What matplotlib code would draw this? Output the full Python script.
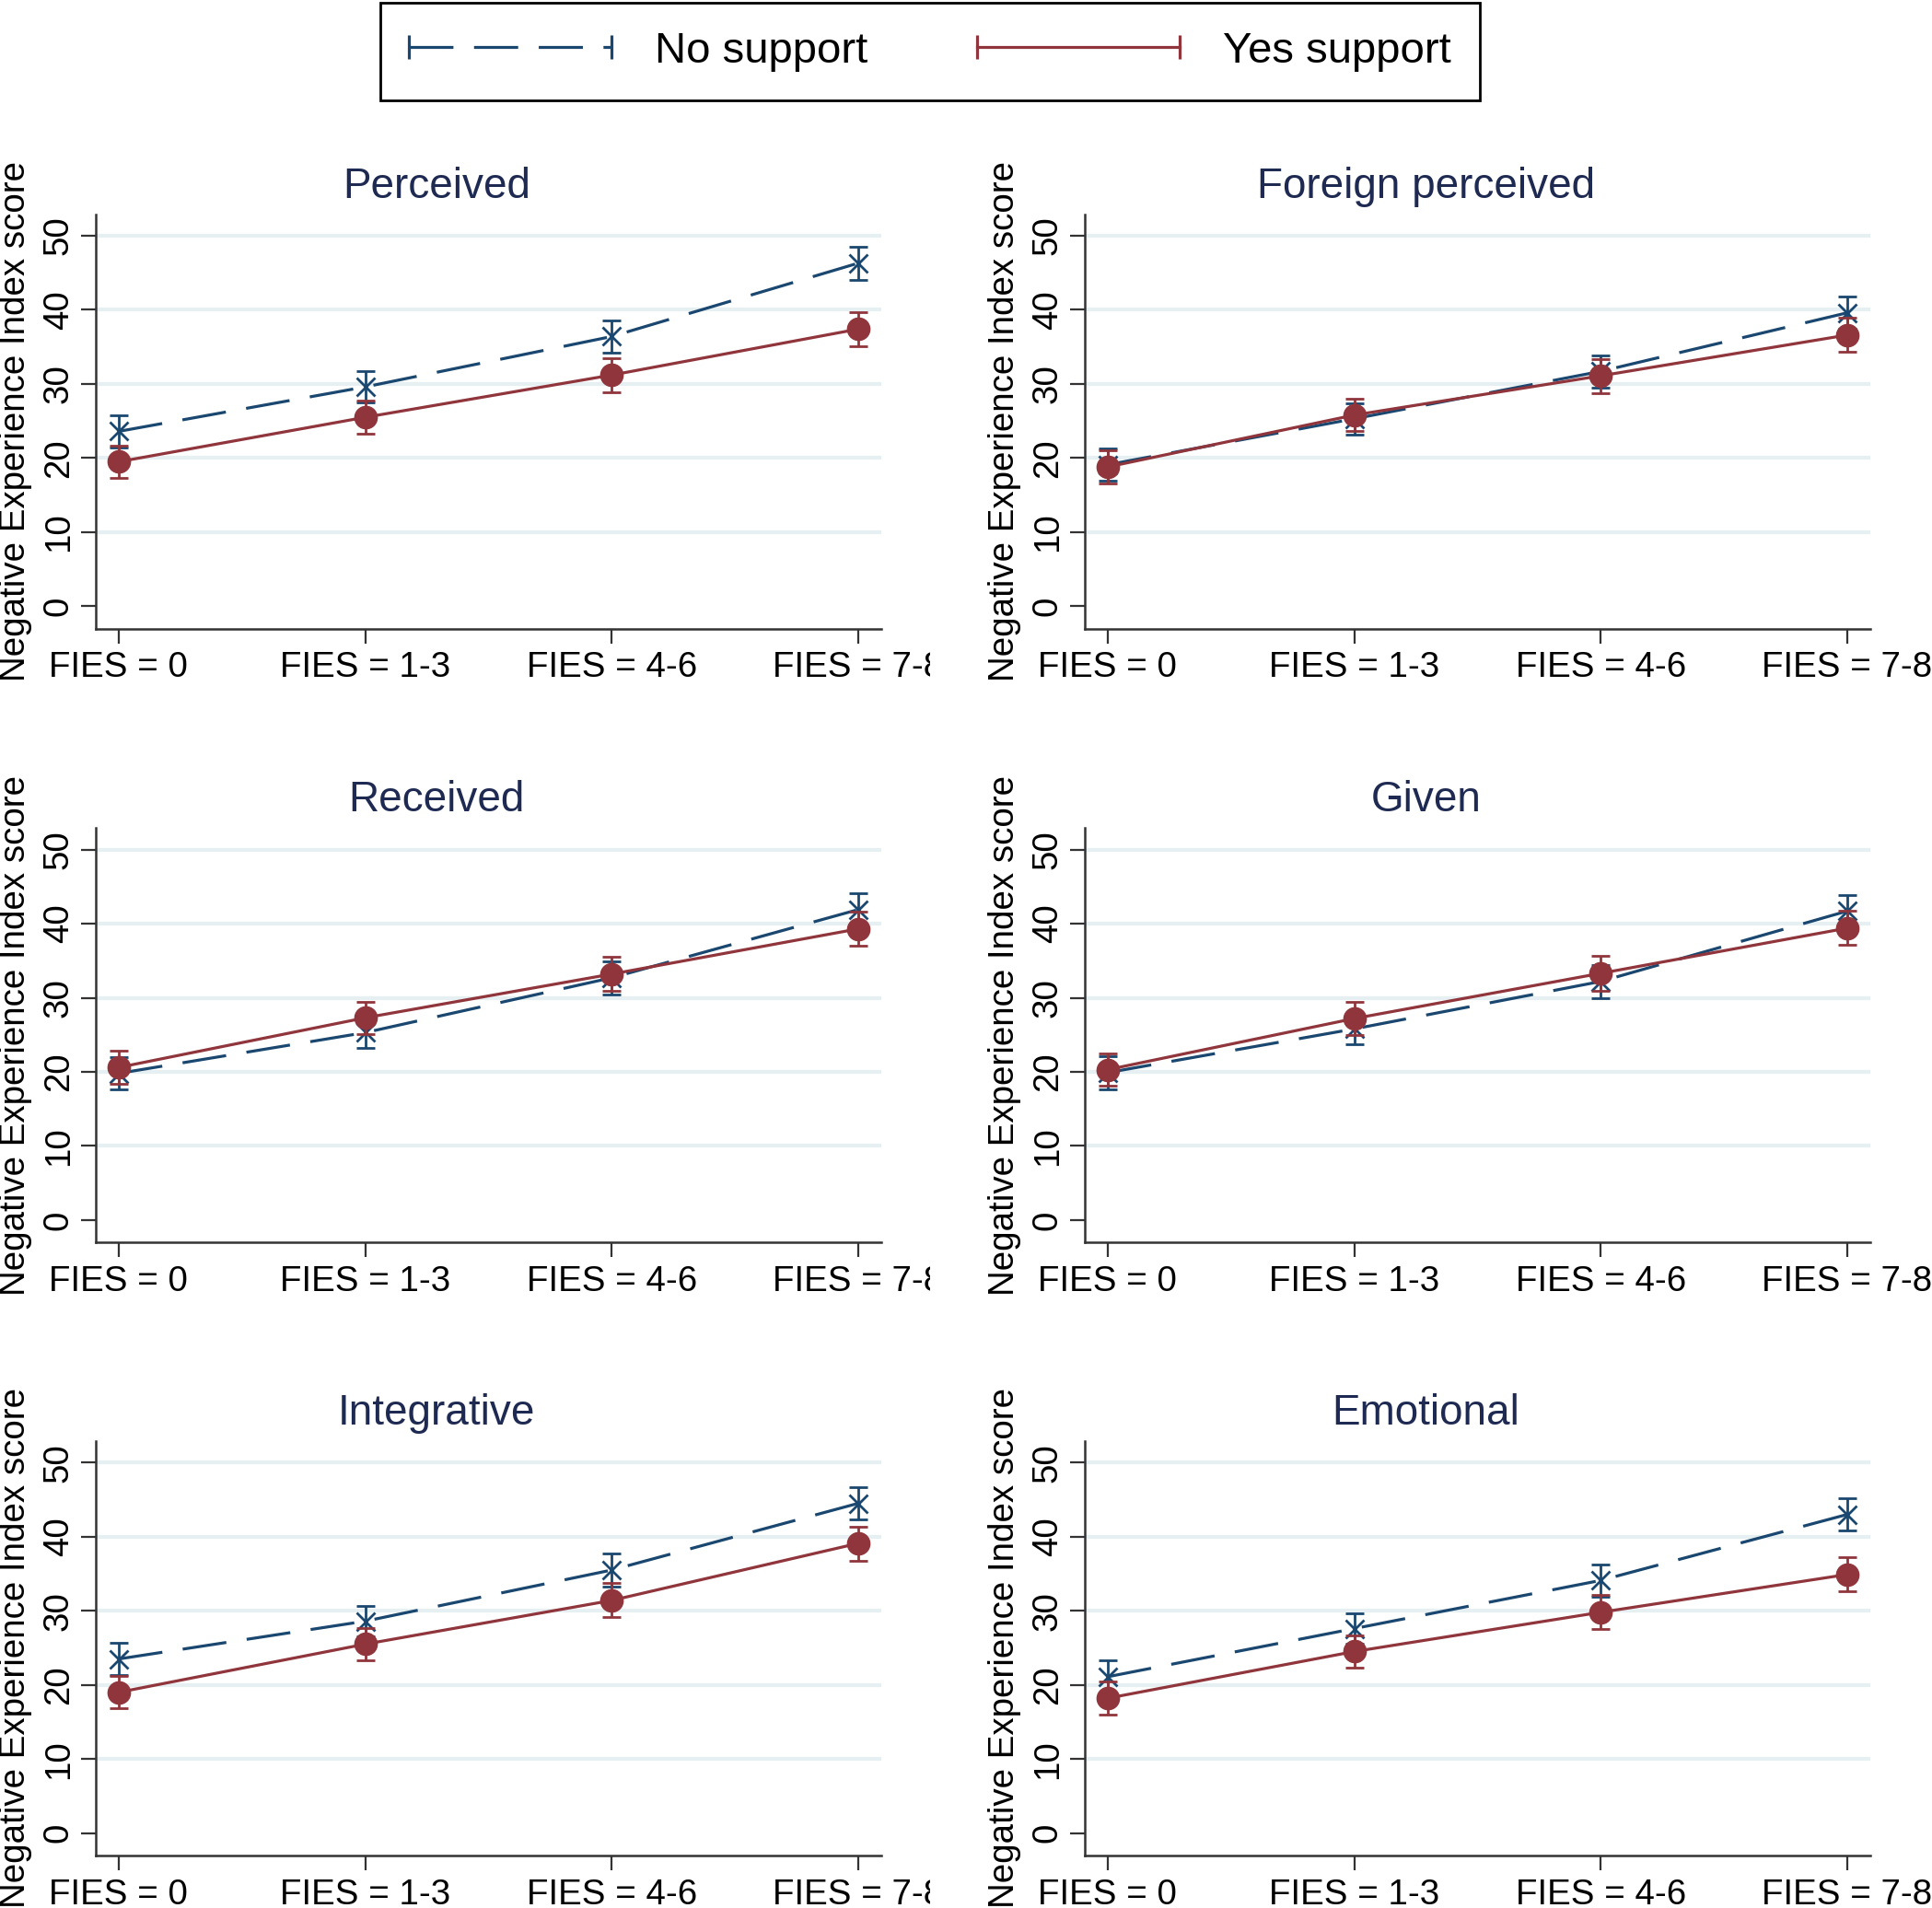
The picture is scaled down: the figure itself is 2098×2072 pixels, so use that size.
import matplotlib
matplotlib.use("Agg")
import matplotlib.pyplot as plt
from matplotlib.lines import Line2D
from matplotlib.legend_handler import HandlerLine2D
from matplotlib.transforms import Bbox, TransformedBbox

plt.rcParams['font.family'] = ['Liberation Sans', 'DejaVu Sans']

# data
categories = ['FIES = 0', 'FIES = 1-3', 'FIES = 4-6', 'FIES = 7-8']
titles = ['Perceived', 'Foreign perceived', 'Received', 'Given', 'Integrative', 'Emotional']

perceived_no = [23.6, 29.6, 36.4, 46.3]
perceived_yes = [19.5, 25.5, 31.2, 37.4]
foreign_no = [19.1, 25.3, 31.7, 39.6]
foreign_yes = [18.8, 25.8, 31.1, 36.6]
received_no = [19.8, 25.3, 32.7, 41.9]
received_yes = [20.6, 27.3, 33.2, 39.3]
given_no = [19.9, 25.8, 32.2, 41.7]
given_yes = [20.3, 27.2, 33.3, 39.4]
integrative_no = [23.5, 28.6, 35.5, 44.5]
integrative_yes = [19.0, 25.5, 31.4, 39.1]
emotional_no = [21.1, 27.6, 34.1, 43.0]
emotional_yes = [18.2, 24.5, 29.8, 34.9]

# half-width of the confidence intervals
no_err = [2.2, 2.1, 2.2, 2.2]
yes_err = [2.2, 2.2, 2.3, 2.3]

no_series = [perceived_no, foreign_no, received_no, given_no, integrative_no, emotional_no]
yes_series = [perceived_yes, foreign_yes, received_yes, given_yes, integrative_yes, emotional_yes]

blue = '#1a476f'
red = '#90353b'
grid_c = '#e6eff1'
title_c = '#1e2a52'
spine_c = '#333333'

W, H = 2098, 2072
fig = plt.figure(figsize=(W / 100, H / 100), dpi=100)

# axes boxes in pixels (left, right) and (top, bottom)
cols = [(104.3, 956.7), (1178.3, 2030.7)]
rows = [(232.7, 682.7), (899.3, 1349.3), (1565, 2015)]
clip = TransformedBbox(Bbox.from_extents(0, 0, 1010 / W, 1), fig.transFigure)

x = list(range(len(categories)))
dash = (0, (15, 7))

for i, title in enumerate(titles):
    c0, c1 = cols[i % 2]
    r0, r1 = rows[i // 2]
    ax = fig.add_axes([c0 / W, 1 - r1 / H, (c1 - c0) / W, (r1 - r0) / H])

    ax.errorbar(x, no_series[i], yerr=no_err, color=blue, ls=dash, lw=2.3,
                marker='x', ms=15, mew=2.0, capsize=7.2, elinewidth=2.0, capthick=2.0, zorder=3)
    ax.errorbar(x, yes_series[i], yerr=yes_err, color=red, ls='-', lw=2.3,
                marker='o', ms=17.5, capsize=7.2, elinewidth=2.0, capthick=2.0, zorder=4)

    ax.set_xlim(-0.092, 3.093)
    ax.set_ylim(-3.03, 52.9)
    ax.set_xticks(x)
    ax.set_xticklabels(categories)
    ax.set_yticks([0, 10, 20, 30, 40, 50])

    ax.grid(axis='y', color=grid_c, lw=3)
    ax.yaxis.get_gridlines()[0].set_visible(False)
    ax.set_axisbelow(True)

    for s in ['top', 'right']:
        ax.spines[s].set_visible(False)
    for s in ['left', 'bottom']:
        ax.spines[s].set_color(spine_c)
        ax.spines[s].set_linewidth(1.8)

    ax.tick_params(axis='both', length=11.2, width=1.6, color=spine_c, labelsize=27.7)
    ax.tick_params(axis='x', pad=6.5)
    ax.tick_params(axis='y', pad=5, labelrotation=90)
    for lab in ax.get_yticklabels():
        lab.set_va('center')

    w = c1 - c0
    ax.text((474 - 104) / w, 1 + 30 / 450, title, transform=ax.transAxes,
            ha='center', va='center', fontsize=33, color=title_c)
    ax.text(-87.5 / w, 0.5, 'Negative Experience Index score', transform=ax.transAxes,
            rotation=90, ha='center', va='center', fontsize=27.7)

    if i % 2 == 0:
        for t in ax.xaxis.get_major_ticks():
            t.label1.set_clip_on(True)
            t.label1.set_clip_box(clip)

h_no = Line2D([], [], color=blue, ls=dash, lw=2.3, marker='|', ms=18.5, mew=2.3)
h_yes = Line2D([], [], color=red, ls='-', lw=2.3, marker='|', ms=18.5, mew=2.3)
leg = fig.legend([h_no, h_yes], ['No support', 'Yes support'], loc='upper center',
                 bbox_to_anchor=(1010 / W, 1 - 2.7 / H), ncol=2, fontsize=34,
                 frameon=True, fancybox=False, edgecolor='black', framealpha=1,
                 borderpad=0.66, borderaxespad=0, handlelength=4.66, handletextpad=1.0,
                 columnspacing=2.5,
                 handler_map={Line2D: HandlerLine2D(numpoints=2, marker_pad=0)})
leg.get_frame().set_linewidth(2)

fig.savefig('out.png', dpi=100)
